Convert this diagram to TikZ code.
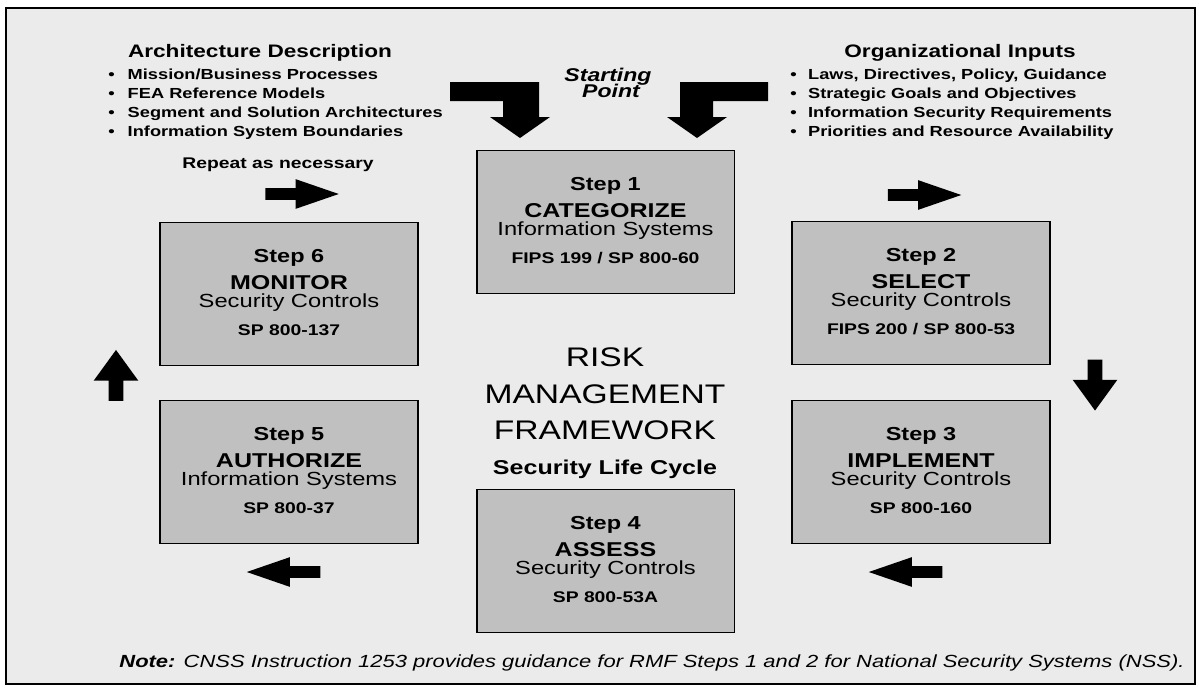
\documentclass[tikz,border=0pt]{standalone}
\usepackage{fontspec}
\setmainfont{Liberation Sans}[FakeStretch=1.25]
\usetikzlibrary{positioning,shapes.arrows}
\definecolor{panelgray}{HTML}{EBEBEB}
\definecolor{boxgray}{HTML}{C0C0C0}

\begin{document}
\begin{tikzpicture}[x=0.02cm, y=-0.02cm,
  stepbox/.style={draw, line width=1.1pt, fill=boxgray, minimum width=5.16cm,
    minimum height=2.86cm, inner sep=0pt},
  numtxt/.style={anchor=base, inner sep=0pt, font=\bfseries\fontsize{10.7}{12}\selectfont},
  titletxt/.style={anchor=base, inner sep=0pt, font=\bfseries\fontsize{11.4}{12}\selectfont},
  subtxt/.style={anchor=base, inner sep=0pt, font=\fontsize{10.8}{12}\selectfont},
  doctxt/.style={anchor=base, inner sep=0pt, font=\bfseries\fontsize{8.8}{10}\selectfont},
  headtxt/.style={anchor=base, inner sep=0pt, font=\bfseries\fontsize{10.3}{12}\selectfont},
  listtxt/.style={anchor=north west, inner sep=0pt, align=left,
    font=\bfseries\fontsize{8.3}{10.7}\selectfont},
  starttxt/.style={anchor=base, inner sep=0pt, font=\bfseries\itshape\fontsize{10.5}{12}\selectfont},
  rmftxt/.style={anchor=base, inner sep=0pt, font=\fontsize{15.3}{18}\selectfont},
  harrow/.style={single arrow, fill=black, draw=none, inner xsep=0pt, inner ysep=0.11cm,
    single arrow head extend=0.18cm, single arrow tip angle=38, minimum height=1.47cm},
  varrow/.style={single arrow, fill=black, draw=none, inner xsep=0pt, inner ysep=0.14cm,
    single arrow head extend=0.3cm, single arrow tip angle=72, minimum height=1.02cm}
]
  \useasboundingbox (0,0) rectangle (1199,690);
  \draw[line width=0.9pt, fill=panelgray] (6,8) rectangle (1195,684);

  \node[headtxt] (archhead) at (260,57) {Architecture Description};
  \node[listtxt] (archlist) at (108,69)
    {\textbullet\hspace{7.4pt}Mission/Business Processes\\
     \textbullet\hspace{7.4pt}FEA Reference Models\\
     \textbullet\hspace{7.4pt}Segment and Solution Architectures\\
     \textbullet\hspace{7.4pt}Information System Boundaries};
  \node[headtxt] (orghead) at (960,57) {Organizational Inputs};
  \node[listtxt] (orglist) at (790,69)
    {\textbullet\hspace{6.5pt}Laws, Directives, Policy, Guidance\\
     \textbullet\hspace{6.5pt}Strategic Goals and Objectives\\
     \textbullet\hspace{6.5pt}Information Security Requirements\\
     \textbullet\hspace{6.5pt}Priorities and Resource Availability};

  \node[starttxt] (start1) at (608,81.7) {Starting};
  \node[starttxt] (start2) at (611,97.7) {Point};
  \fill (450,82) -- (539,82) -- (539,117) -- (550,117) -- (520,138) -- (490,117)
    -- (503,117) -- (503,101) -- (450,101) -- cycle;
  \fill (768,82) -- (680,82) -- (680,117) -- (667,117) -- (697,138) -- (727,117)
    -- (713,117) -- (713,101) -- (768,101) -- cycle;

  \node[anchor=base, inner sep=0pt, font=\bfseries\fontsize{8.8}{10}\selectfont]
    (repeat) at (278,168) {Repeat as necessary};

  \node[stepbox] (step1) at (605.5,222) {};
  \node[numtxt] (step1num) at (605.5,190) {Step 1};
  \node[titletxt] (step1title) at (605.5,217) {CATEGORIZE};
  \node[subtxt] (step1sub) at (605.5,235) {Information Systems};
  \node[doctxt] (step1doc) at (605.5,263) {FIPS 199 / SP 800-60};

  \node[stepbox] (step2) at (921,293) {};
  \node[numtxt] (step2num) at (921,261) {Step 2};
  \node[titletxt] (step2title) at (921,288) {SELECT};
  \node[subtxt] (step2sub) at (921,306) {Security Controls};
  \node[doctxt] (step2doc) at (921,334) {FIPS 200 / SP 800-53};

  \node[stepbox] (step3) at (921,472) {};
  \node[numtxt] (step3num) at (921,440) {Step 3};
  \node[titletxt] (step3title) at (921,467) {IMPLEMENT};
  \node[subtxt] (step3sub) at (921,485) {Security Controls};
  \node[doctxt] (step3doc) at (921,513) {SP 800-160};

  \node[stepbox] (step4) at (605.5,561) {};
  \node[numtxt] (step4num) at (605.5,529) {Step 4};
  \node[titletxt] (step4title) at (605.5,556) {ASSESS};
  \node[subtxt] (step4sub) at (605.5,574) {Security Controls};
  \node[doctxt] (step4doc) at (605.5,602) {SP 800-53A};

  \node[stepbox] (step5) at (289,472) {};
  \node[numtxt] (step5num) at (289,440) {Step 5};
  \node[titletxt] (step5title) at (289,467) {AUTHORIZE};
  \node[subtxt] (step5sub) at (289,485) {Information Systems};
  \node[doctxt] (step5doc) at (289,513) {SP 800-37};

  \node[stepbox] (step6) at (289,294) {};
  \node[numtxt] (step6num) at (289,262) {Step 6};
  \node[titletxt] (step6title) at (289,289) {MONITOR};
  \node[subtxt] (step6sub) at (289,307) {Security Controls};
  \node[doctxt] (step6doc) at (289,335) {SP 800-137};

  \node[rmftxt] (risk) at (605,366) {RISK};
  \node[rmftxt] (mgmt) at (605,403) {MANAGEMENT};
  \node[rmftxt] (framework) at (605,439) {FRAMEWORK};
  \node[anchor=base, inner sep=0pt, font=\bfseries\fontsize{11.4}{14}\selectfont]
    (lifecycle) at (605,474) {Security Life Cycle};

  \node[harrow] (repeatarr) at (293.5,194) {};
  \node[harrow] (toselect) at (916,195) {};
  \node[varrow, rotate=-90] (toimplement) at (1095,380) {};
  \node[harrow, rotate=180] (toassess) at (914,572) {};
  \node[harrow, rotate=180] (toauthorize) at (292,572) {};
  \node[varrow, rotate=90] (tomonitor) at (116,380.5) {};

  \node[anchor=base, inner sep=0pt, font=\itshape\fontsize{10}{12}\selectfont]
    (note) at (652,667)
    {\textbf{Note:} CNSS Instruction 1253 provides guidance for RMF Steps 1 and 2 for National Security Systems (NSS).};
\end{tikzpicture}
\end{document}
